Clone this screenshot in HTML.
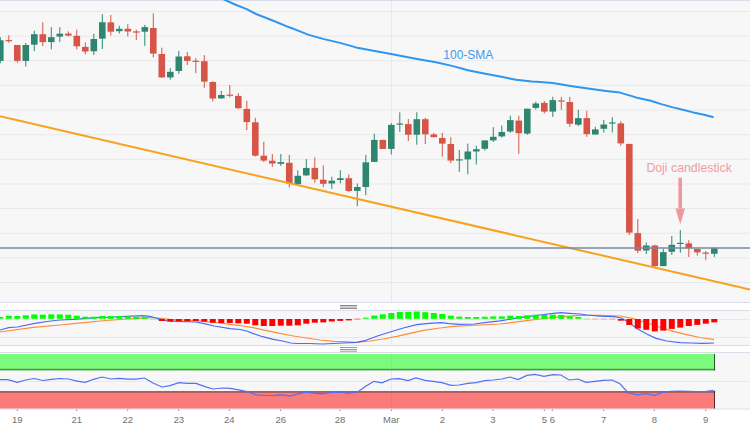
<!DOCTYPE html>
<html><head><meta charset="utf-8"><title>Chart</title>
<style>html,body{margin:0;padding:0;background:#fff;width:750px;height:430px;overflow:hidden}svg{display:block}</style>
</head><body>
<svg width="750" height="430" viewBox="0 0 750 430">
<rect x="0" y="0" width="750" height="430" fill="#ffffff"/>
<rect x="0" y="0" width="750" height="302" fill="#f7f7f7"/>
<rect x="0" y="310.5" width="750" height="35" fill="#f7f7f7"/>
<rect x="0" y="353" width="750" height="55.5" fill="#f7f7f7"/>
<line x1="0" x2="750" y1="11.50" y2="11.50" stroke="#e8e8e8" stroke-width="1"/>
<line x1="0" x2="750" y1="36.14" y2="36.14" stroke="#e8e8e8" stroke-width="1"/>
<line x1="0" x2="750" y1="60.77" y2="60.77" stroke="#e8e8e8" stroke-width="1"/>
<line x1="0" x2="750" y1="85.41" y2="85.41" stroke="#e8e8e8" stroke-width="1"/>
<line x1="0" x2="750" y1="110.04" y2="110.04" stroke="#e8e8e8" stroke-width="1"/>
<line x1="0" x2="750" y1="134.68" y2="134.68" stroke="#e8e8e8" stroke-width="1"/>
<line x1="0" x2="750" y1="159.32" y2="159.32" stroke="#e8e8e8" stroke-width="1"/>
<line x1="0" x2="750" y1="183.95" y2="183.95" stroke="#e8e8e8" stroke-width="1"/>
<line x1="0" x2="750" y1="208.59" y2="208.59" stroke="#e8e8e8" stroke-width="1"/>
<line x1="0" x2="750" y1="233.22" y2="233.22" stroke="#e8e8e8" stroke-width="1"/>
<line x1="0" x2="750" y1="257.86" y2="257.86" stroke="#e8e8e8" stroke-width="1"/>
<line x1="0" x2="750" y1="282.50" y2="282.50" stroke="#e8e8e8" stroke-width="1"/>
<line x1="0" x2="750" y1="319.5" y2="319.5" stroke="#e8e8e8" stroke-width="1"/>
<line x1="0" x2="750" y1="337.5" y2="337.5" stroke="#e8e8e8" stroke-width="1"/>
<line x1="0" x2="750" y1="381.5" y2="381.5" stroke="#e8e8e8" stroke-width="1"/>
<line x1="391.5" x2="391.5" y1="0" y2="302" stroke="#e8e8e8" stroke-width="1"/>
<line x1="391.5" x2="391.5" y1="310.5" y2="345" stroke="#e8e8e8" stroke-width="1"/>
<line x1="391.5" x2="391.5" y1="353" y2="408" stroke="#e8e8e8" stroke-width="1"/>
<line x1="0" x2="750" y1="0.5" y2="0.5" stroke="#d9dde9" stroke-width="1"/>
<line x1="0" x2="750" y1="302.5" y2="302.5" stroke="#d9dde9" stroke-width="1"/>
<line x1="0" x2="750" y1="310.5" y2="310.5" stroke="#d9dde9" stroke-width="1"/>
<line x1="0" x2="750" y1="345.5" y2="345.5" stroke="#d9dde9" stroke-width="1"/>
<line x1="0" x2="750" y1="352.5" y2="352.5" stroke="#d9dde9" stroke-width="1"/>
<line x1="0" x2="750" y1="409" y2="409" stroke="#d9dde9" stroke-width="1"/>
<rect x="340" y="305" width="17" height="4" fill="#cdcdcd"/>
<line x1="340" x2="357" y1="305.5" y2="305.5" stroke="#8c8c8c" stroke-width="1"/>
<line x1="340" x2="357" y1="308.5" y2="308.5" stroke="#8c8c8c" stroke-width="1"/>
<line x1="340" x2="357" y1="347.5" y2="347.5" stroke="#9a9a9a" stroke-width="1"/>
<line x1="340" x2="357" y1="349.5" y2="349.5" stroke="#9a9a9a" stroke-width="1"/>
<line x1="340" x2="357" y1="351.2" y2="351.2" stroke="#9a9a9a" stroke-width="1"/>
<line x1="0.30" x2="0.30" y1="37.2" y2="63.3" stroke="#2f8670" stroke-width="1"/>
<rect x="-3.00" y="40.30" width="6.6" height="20.60" fill="#2f8670"/>
<line x1="8.80" x2="8.80" y1="35.3" y2="42.7" stroke="#d65547" stroke-width="1"/>
<rect x="5.50" y="40.10" width="6.6" height="1.2" fill="#d65547"/>
<line x1="17.30" x2="17.30" y1="45" y2="62.8" stroke="#d65547" stroke-width="1"/>
<rect x="14.00" y="45.00" width="6.6" height="15.90" fill="#d65547"/>
<line x1="25.80" x2="25.80" y1="43" y2="66.5" stroke="#2f8670" stroke-width="1"/>
<rect x="22.50" y="45.00" width="6.6" height="15.90" fill="#2f8670"/>
<line x1="34.30" x2="34.30" y1="30.7" y2="51.2" stroke="#2f8670" stroke-width="1"/>
<rect x="31.00" y="34.20" width="6.6" height="10.50" fill="#2f8670"/>
<line x1="42.80" x2="42.80" y1="22.3" y2="46.2" stroke="#d65547" stroke-width="1"/>
<rect x="39.50" y="34.20" width="6.6" height="7.90" fill="#d65547"/>
<line x1="51.30" x2="51.30" y1="27.2" y2="49.3" stroke="#2f8670" stroke-width="1"/>
<rect x="48.00" y="37.20" width="6.6" height="4.90" fill="#2f8670"/>
<line x1="59.80" x2="59.80" y1="27.2" y2="41.9" stroke="#2f8670" stroke-width="1"/>
<rect x="56.50" y="33.70" width="6.6" height="2.90" fill="#2f8670"/>
<line x1="68.30" x2="68.30" y1="31.4" y2="36.5" stroke="#d65547" stroke-width="1"/>
<rect x="65.00" y="33.60" width="6.6" height="2.00" fill="#d65547"/>
<line x1="76.80" x2="76.80" y1="29.7" y2="49.4" stroke="#d65547" stroke-width="1"/>
<rect x="73.50" y="35.80" width="6.6" height="10.50" fill="#d65547"/>
<line x1="85.30" x2="85.30" y1="42.4" y2="54.4" stroke="#d65547" stroke-width="1"/>
<rect x="82.00" y="46.90" width="6.6" height="4.60" fill="#d65547"/>
<line x1="93.80" x2="93.80" y1="33.8" y2="55" stroke="#2f8670" stroke-width="1"/>
<rect x="90.50" y="39.00" width="6.6" height="12.30" fill="#2f8670"/>
<line x1="102.30" x2="102.30" y1="14.1" y2="49" stroke="#2f8670" stroke-width="1"/>
<rect x="99.00" y="22.20" width="6.6" height="16.50" fill="#2f8670"/>
<line x1="110.80" x2="110.80" y1="14.9" y2="35.5" stroke="#d65547" stroke-width="1"/>
<rect x="107.50" y="22.40" width="6.6" height="9.30" fill="#d65547"/>
<line x1="119.30" x2="119.30" y1="25.7" y2="33.5" stroke="#2f8670" stroke-width="1"/>
<rect x="116.00" y="28.80" width="6.6" height="2.40" fill="#2f8670"/>
<line x1="127.80" x2="127.80" y1="24.2" y2="36.4" stroke="#d65547" stroke-width="1"/>
<rect x="124.50" y="28.80" width="6.6" height="2.70" fill="#d65547"/>
<line x1="136.30" x2="136.30" y1="29.7" y2="40.1" stroke="#d65547" stroke-width="1"/>
<rect x="133.00" y="31.40" width="6.6" height="1.2" fill="#d65547"/>
<line x1="144.80" x2="144.80" y1="24.8" y2="45.9" stroke="#2f8670" stroke-width="1"/>
<rect x="141.50" y="27.10" width="6.6" height="4.60" fill="#2f8670"/>
<line x1="153.30" x2="153.30" y1="13.4" y2="57.4" stroke="#d65547" stroke-width="1"/>
<rect x="150.00" y="28.00" width="6.6" height="25.60" fill="#d65547"/>
<line x1="161.80" x2="161.80" y1="47.7" y2="78" stroke="#d65547" stroke-width="1"/>
<rect x="158.50" y="54.00" width="6.6" height="23.40" fill="#d65547"/>
<line x1="170.30" x2="170.30" y1="68.2" y2="79.7" stroke="#2f8670" stroke-width="1"/>
<rect x="167.00" y="71.80" width="6.6" height="5.60" fill="#2f8670"/>
<line x1="178.80" x2="178.80" y1="50.9" y2="73.8" stroke="#2f8670" stroke-width="1"/>
<rect x="175.50" y="56.50" width="6.6" height="14.50" fill="#2f8670"/>
<line x1="187.30" x2="187.30" y1="51.9" y2="65.1" stroke="#d65547" stroke-width="1"/>
<rect x="184.00" y="56.30" width="6.6" height="4.60" fill="#d65547"/>
<line x1="195.80" x2="195.80" y1="58.1" y2="73.2" stroke="#d65547" stroke-width="1"/>
<rect x="192.50" y="60.70" width="6.6" height="1.2" fill="#d65547"/>
<line x1="204.30" x2="204.30" y1="55.1" y2="87.7" stroke="#d65547" stroke-width="1"/>
<rect x="201.00" y="61.20" width="6.6" height="20.40" fill="#d65547"/>
<line x1="212.80" x2="212.80" y1="81.3" y2="101.5" stroke="#d65547" stroke-width="1"/>
<rect x="209.50" y="82.00" width="6.6" height="16.50" fill="#d65547"/>
<line x1="221.30" x2="221.30" y1="91" y2="98.8" stroke="#2f8670" stroke-width="1"/>
<rect x="218.00" y="95.00" width="6.6" height="3.40" fill="#2f8670"/>
<line x1="229.80" x2="229.80" y1="85" y2="97.3" stroke="#d65547" stroke-width="1"/>
<rect x="226.50" y="94.60" width="6.6" height="1.2" fill="#d65547"/>
<line x1="238.30" x2="238.30" y1="93.1" y2="109.2" stroke="#d65547" stroke-width="1"/>
<rect x="235.00" y="95.90" width="6.6" height="12.30" fill="#d65547"/>
<line x1="246.80" x2="246.80" y1="100.8" y2="130.1" stroke="#d65547" stroke-width="1"/>
<rect x="243.50" y="108.90" width="6.6" height="13.20" fill="#d65547"/>
<line x1="255.30" x2="255.30" y1="117.8" y2="156.6" stroke="#d65547" stroke-width="1"/>
<rect x="252.00" y="122.30" width="6.6" height="33.40" fill="#d65547"/>
<line x1="263.80" x2="263.80" y1="141.8" y2="162.1" stroke="#d65547" stroke-width="1"/>
<rect x="260.50" y="155.70" width="6.6" height="4.90" fill="#d65547"/>
<line x1="272.30" x2="272.30" y1="154" y2="166.9" stroke="#d65547" stroke-width="1"/>
<rect x="269.00" y="160.70" width="6.6" height="2.80" fill="#d65547"/>
<line x1="280.80" x2="280.80" y1="154" y2="165.9" stroke="#2f8670" stroke-width="1"/>
<rect x="277.50" y="162.10" width="6.6" height="1.70" fill="#2f8670"/>
<line x1="289.30" x2="289.30" y1="154.9" y2="187.4" stroke="#d65547" stroke-width="1"/>
<rect x="286.00" y="162.80" width="6.6" height="20.70" fill="#d65547"/>
<line x1="297.80" x2="297.80" y1="170.2" y2="186" stroke="#2f8670" stroke-width="1"/>
<rect x="294.50" y="175.80" width="6.6" height="8.40" fill="#2f8670"/>
<line x1="306.30" x2="306.30" y1="159.1" y2="175.8" stroke="#2f8670" stroke-width="1"/>
<rect x="303.00" y="167.90" width="6.6" height="7.50" fill="#2f8670"/>
<line x1="314.80" x2="314.80" y1="157.3" y2="182.8" stroke="#d65547" stroke-width="1"/>
<rect x="311.50" y="167.90" width="6.6" height="11.40" fill="#d65547"/>
<line x1="323.30" x2="323.30" y1="165.3" y2="187" stroke="#d65547" stroke-width="1"/>
<rect x="320.00" y="179.70" width="6.6" height="4.10" fill="#d65547"/>
<line x1="331.80" x2="331.80" y1="176.8" y2="188.8" stroke="#2f8670" stroke-width="1"/>
<rect x="328.50" y="180.70" width="6.6" height="2.80" fill="#2f8670"/>
<line x1="340.30" x2="340.30" y1="170.2" y2="183.2" stroke="#2f8670" stroke-width="1"/>
<rect x="337.00" y="178.20" width="6.6" height="1.80" fill="#2f8670"/>
<line x1="348.80" x2="348.80" y1="174.4" y2="192.1" stroke="#d65547" stroke-width="1"/>
<rect x="345.50" y="178.20" width="6.6" height="12.80" fill="#d65547"/>
<line x1="357.30" x2="357.30" y1="183.5" y2="206" stroke="#2f8670" stroke-width="1"/>
<rect x="354.00" y="187.00" width="6.6" height="3.90" fill="#2f8670"/>
<line x1="365.80" x2="365.80" y1="154.9" y2="195.3" stroke="#2f8670" stroke-width="1"/>
<rect x="362.50" y="162.30" width="6.6" height="24.70" fill="#2f8670"/>
<line x1="374.30" x2="374.30" y1="133.6" y2="162.2" stroke="#2f8670" stroke-width="1"/>
<rect x="371.00" y="139.90" width="6.6" height="22.00" fill="#2f8670"/>
<line x1="382.80" x2="382.80" y1="139.9" y2="148.9" stroke="#d65547" stroke-width="1"/>
<rect x="379.50" y="139.90" width="6.6" height="9.00" fill="#d65547"/>
<line x1="391.30" x2="391.30" y1="123.1" y2="154.5" stroke="#2f8670" stroke-width="1"/>
<rect x="388.00" y="124.90" width="6.6" height="24.00" fill="#2f8670"/>
<line x1="399.80" x2="399.80" y1="112.3" y2="131.8" stroke="#2f8670" stroke-width="1"/>
<rect x="396.50" y="123.50" width="6.6" height="1.2" fill="#2f8670"/>
<line x1="408.30" x2="408.30" y1="119" y2="141" stroke="#d65547" stroke-width="1"/>
<rect x="405.00" y="124.10" width="6.6" height="10.60" fill="#d65547"/>
<line x1="416.80" x2="416.80" y1="112.3" y2="144.7" stroke="#2f8670" stroke-width="1"/>
<rect x="413.50" y="119.20" width="6.6" height="15.50" fill="#2f8670"/>
<line x1="425.30" x2="425.30" y1="117.8" y2="144" stroke="#d65547" stroke-width="1"/>
<rect x="422.00" y="119.20" width="6.6" height="15.10" fill="#d65547"/>
<line x1="433.80" x2="433.80" y1="132.9" y2="137.2" stroke="#d65547" stroke-width="1"/>
<rect x="430.50" y="134.40" width="6.6" height="2.80" fill="#d65547"/>
<line x1="442.30" x2="442.30" y1="132.9" y2="156.6" stroke="#d65547" stroke-width="1"/>
<rect x="439.00" y="138.00" width="6.6" height="5.60" fill="#d65547"/>
<line x1="450.80" x2="450.80" y1="137.3" y2="163.1" stroke="#d65547" stroke-width="1"/>
<rect x="447.50" y="144.00" width="6.6" height="16.60" fill="#d65547"/>
<line x1="459.30" x2="459.30" y1="149.9" y2="171.9" stroke="#2f8670" stroke-width="1"/>
<rect x="456.00" y="159.30" width="6.6" height="1.2" fill="#2f8670"/>
<line x1="467.80" x2="467.80" y1="143.6" y2="174.3" stroke="#2f8670" stroke-width="1"/>
<rect x="464.50" y="151.50" width="6.6" height="7.90" fill="#2f8670"/>
<line x1="476.30" x2="476.30" y1="145.7" y2="164.5" stroke="#2f8670" stroke-width="1"/>
<rect x="473.00" y="149.20" width="6.6" height="2.30" fill="#2f8670"/>
<line x1="484.80" x2="484.80" y1="140.4" y2="150.6" stroke="#2f8670" stroke-width="1"/>
<rect x="481.50" y="140.40" width="6.6" height="8.40" fill="#2f8670"/>
<line x1="493.30" x2="493.30" y1="127.2" y2="141.8" stroke="#2f8670" stroke-width="1"/>
<rect x="490.00" y="136.80" width="6.6" height="3.60" fill="#2f8670"/>
<line x1="501.80" x2="501.80" y1="125.5" y2="137.6" stroke="#2f8670" stroke-width="1"/>
<rect x="498.50" y="132.00" width="6.6" height="4.40" fill="#2f8670"/>
<line x1="510.30" x2="510.30" y1="115.7" y2="132.7" stroke="#2f8670" stroke-width="1"/>
<rect x="507.00" y="120.10" width="6.6" height="11.40" fill="#2f8670"/>
<line x1="518.80" x2="518.80" y1="115.7" y2="153.8" stroke="#d65547" stroke-width="1"/>
<rect x="515.50" y="120.60" width="6.6" height="12.60" fill="#d65547"/>
<line x1="527.30" x2="527.30" y1="108.7" y2="134.8" stroke="#2f8670" stroke-width="1"/>
<rect x="524.00" y="108.70" width="6.6" height="24.90" fill="#2f8670"/>
<line x1="535.80" x2="535.80" y1="101.7" y2="109.5" stroke="#2f8670" stroke-width="1"/>
<rect x="532.50" y="103.50" width="6.6" height="4.40" fill="#2f8670"/>
<line x1="544.30" x2="544.30" y1="101" y2="113.4" stroke="#d65547" stroke-width="1"/>
<rect x="541.00" y="102.90" width="6.6" height="8.70" fill="#d65547"/>
<line x1="552.80" x2="552.80" y1="96.8" y2="117" stroke="#2f8670" stroke-width="1"/>
<rect x="549.50" y="100.10" width="6.6" height="11.50" fill="#2f8670"/>
<line x1="561.30" x2="561.30" y1="96.9" y2="109.8" stroke="#d65547" stroke-width="1"/>
<rect x="558.00" y="100.40" width="6.6" height="1.2" fill="#d65547"/>
<line x1="569.80" x2="569.80" y1="96.9" y2="126.8" stroke="#d65547" stroke-width="1"/>
<rect x="566.50" y="102.00" width="6.6" height="21.80" fill="#d65547"/>
<line x1="578.30" x2="578.30" y1="109.8" y2="126.1" stroke="#2f8670" stroke-width="1"/>
<rect x="575.00" y="118.10" width="6.6" height="6.60" fill="#2f8670"/>
<line x1="586.80" x2="586.80" y1="110.8" y2="136.9" stroke="#d65547" stroke-width="1"/>
<rect x="583.50" y="118.10" width="6.6" height="16.00" fill="#d65547"/>
<line x1="595.30" x2="595.30" y1="126.8" y2="134.5" stroke="#2f8670" stroke-width="1"/>
<rect x="592.00" y="129.40" width="6.6" height="5.10" fill="#2f8670"/>
<line x1="603.80" x2="603.80" y1="120" y2="132.6" stroke="#2f8670" stroke-width="1"/>
<rect x="600.50" y="124.50" width="6.6" height="4.30" fill="#2f8670"/>
<line x1="612.30" x2="612.30" y1="117.3" y2="132.5" stroke="#2f8670" stroke-width="1"/>
<rect x="609.00" y="122.40" width="6.6" height="1.2" fill="#2f8670"/>
<line x1="620.80" x2="620.80" y1="121.1" y2="145.8" stroke="#d65547" stroke-width="1"/>
<rect x="617.50" y="123.40" width="6.6" height="20.00" fill="#d65547"/>
<line x1="629.30" x2="629.30" y1="143.9" y2="235" stroke="#d65547" stroke-width="1"/>
<rect x="626.00" y="143.90" width="6.6" height="88.70" fill="#d65547"/>
<line x1="637.80" x2="637.80" y1="219" y2="253.1" stroke="#d65547" stroke-width="1"/>
<rect x="634.50" y="233.10" width="6.6" height="17.60" fill="#d65547"/>
<line x1="646.30" x2="646.30" y1="242.5" y2="254" stroke="#2f8670" stroke-width="1"/>
<rect x="643.00" y="245.50" width="6.6" height="5.00" fill="#2f8670"/>
<line x1="654.80" x2="654.80" y1="244.7" y2="267.1" stroke="#d65547" stroke-width="1"/>
<rect x="651.50" y="245.50" width="6.6" height="20.60" fill="#d65547"/>
<line x1="663.30" x2="663.30" y1="248.8" y2="266.1" stroke="#2f8670" stroke-width="1"/>
<rect x="660.00" y="252.10" width="6.6" height="14.00" fill="#2f8670"/>
<line x1="671.80" x2="671.80" y1="236" y2="254.9" stroke="#2f8670" stroke-width="1"/>
<rect x="668.50" y="244.80" width="6.6" height="7.00" fill="#2f8670"/>
<line x1="680.30" x2="680.30" y1="230" y2="252.8" stroke="#2f8670" stroke-width="1"/>
<rect x="677.00" y="242.80" width="6.6" height="1.2" fill="#2f8670"/>
<line x1="688.80" x2="688.80" y1="240.2" y2="257" stroke="#d65547" stroke-width="1"/>
<rect x="685.50" y="243.40" width="6.6" height="4.80" fill="#d65547"/>
<line x1="697.30" x2="697.30" y1="248.9" y2="255.6" stroke="#d65547" stroke-width="1"/>
<rect x="694.00" y="248.90" width="6.6" height="3.50" fill="#d65547"/>
<line x1="705.80" x2="705.80" y1="251" y2="260.2" stroke="#d65547" stroke-width="1"/>
<rect x="702.50" y="252.60" width="6.6" height="1.2" fill="#d65547"/>
<line x1="714.30" x2="714.30" y1="247.2" y2="257" stroke="#2f8670" stroke-width="1"/>
<rect x="711.00" y="248.20" width="6.6" height="5.60" fill="#2f8670"/>
<line x1="0" y1="116.3" x2="750" y2="289.6" stroke="#f8a21c" stroke-width="2"/>
<polyline points="218.0,-3.3 225.3,0.0 235.0,4.5 246.7,9.1 256.0,14.0 273.3,20.7 289.3,27.3 300.0,31.4 308.0,34.6 324.0,39.1 340.0,42.9 356.0,47.4 372.0,50.6 391.2,54.1 404.0,56.5 420.0,59.4 436.0,62.2 452.0,65.9 468.0,70.2 484.0,73.4 500.0,76.6 516.0,79.8 532.0,81.4 540.0,81.9 552.8,83.0 572.0,86.2 588.0,88.6 604.0,90.7 620.0,92.6 636.0,97.4 650.7,100.7 661.3,104.1 672.0,107.1 682.7,109.7 693.3,112.4 704.0,114.7 713.6,117.2" fill="none" stroke="#2f96ef" stroke-width="2" stroke-linejoin="round"/>
<line x1="0" x2="750" y1="248" y2="248" stroke="#7888a5" stroke-width="1.4"/>
<text x="443.3" y="58.7" font-family="Liberation Sans, Arial, sans-serif" font-size="12" fill="#3d9be9">100-SMA</text>
<text x="646.4" y="172" font-family="Liberation Sans, Arial, sans-serif" font-size="12.3" fill="#f29ca1">Doji candlestick</text>
<rect x="678.4" y="177.7" width="3.6" height="31" fill="#f0979b"/>
<polygon points="675.5,208.4 685,208.4 680.25,224.4" fill="#f0979b"/>
<polyline points="0.0,332.0 33.3,327.3 60.0,325.0 73.3,323.7 86.7,322.4 100.0,321.0 113.3,320.0 126.7,319.0 140.0,318.4 150.0,317.3 158.0,318.0 170.0,319.3 190.0,320.3 203.3,321.3 216.7,322.7 230.0,324.3 243.3,326.0 253.3,327.7 266.7,330.7 280.0,333.3 293.3,336.0 306.7,338.0 320.0,340.0 333.3,341.3 343.3,341.7 356.7,342.3 370.0,341.0 383.3,339.0 396.7,336.3 410.0,333.3 423.3,330.4 440.0,328.0 453.3,326.4 466.7,325.6 480.0,325.0 500.0,324.0 513.3,322.4 526.7,320.7 540.0,319.0 553.3,317.3 566.7,316.3 580.0,315.3 593.3,315.3 600.0,315.4 620.0,316.0 633.3,318.7 646.7,322.7 660.0,327.3 673.3,331.3 686.7,334.7 700.0,337.5 714.0,339.6" fill="none" stroke="#ff8c3c" stroke-width="1.2"/>
<polyline points="0.0,330.0 8.7,327.6 17.3,327.0 34.7,323.3 50.7,321.0 60.0,320.0 73.3,319.3 86.7,318.4 100.0,317.3 113.3,317.0 126.7,316.4 142.7,315.6 150.0,316.3 156.7,318.4 166.0,320.7 176.7,321.3 195.3,322.0 203.3,323.3 214.0,326.0 230.0,328.7 240.0,329.5 246.7,331.0 253.3,333.6 262.7,336.7 273.3,339.3 282.7,341.0 290.7,343.0 297.3,343.5 309.3,343.5 322.7,344.0 343.3,343.0 356.7,342.4 364.7,340.7 376.7,336.3 390.0,332.0 403.3,328.0 416.7,324.7 429.3,323.3 441.3,322.7 449.3,323.6 460.0,324.3 474.7,324.0 486.7,322.4 500.0,320.9 513.3,318.7 526.7,316.7 540.0,315.0 553.3,313.3 561.3,312.7 569.3,313.3 580.0,314.0 586.7,315.0 600.0,316.1 613.3,316.7 621.3,318.0 629.3,322.7 637.3,328.7 646.7,334.0 656.0,338.4 666.7,341.0 680.0,342.6 690.0,343.0 703.3,343.3 714.0,343.0" fill="none" stroke="#4a6cf7" stroke-width="1.2"/>
<rect x="-2.70" y="317.00" width="6" height="1.80" fill="#00ff00"/>
<rect x="5.80" y="315.70" width="6" height="3.10" fill="#00ff00"/>
<rect x="14.30" y="316.00" width="6" height="2.80" fill="#00ff00"/>
<rect x="22.80" y="315.30" width="6" height="3.50" fill="#00ff00"/>
<rect x="31.30" y="314.40" width="6" height="4.40" fill="#00ff00"/>
<rect x="39.80" y="314.70" width="6" height="4.10" fill="#00ff00"/>
<rect x="48.30" y="314.40" width="6" height="4.40" fill="#00ff00"/>
<rect x="56.80" y="314.40" width="6" height="4.40" fill="#00ff00"/>
<rect x="65.30" y="314.70" width="6" height="4.10" fill="#00ff00"/>
<rect x="73.80" y="315.70" width="6" height="3.10" fill="#00ff00"/>
<rect x="82.30" y="316.70" width="6" height="2.10" fill="#00ff00"/>
<rect x="90.80" y="316.70" width="6" height="2.10" fill="#00ff00"/>
<rect x="99.30" y="316.00" width="6" height="2.80" fill="#00ff00"/>
<rect x="107.80" y="316.00" width="6" height="2.80" fill="#00ff00"/>
<rect x="116.30" y="316.00" width="6" height="2.80" fill="#00ff00"/>
<rect x="124.80" y="316.40" width="6" height="2.40" fill="#00ff00"/>
<rect x="133.30" y="316.80" width="6" height="2.00" fill="#00ff00"/>
<rect x="141.80" y="316.80" width="6" height="2.00" fill="#00ff00"/>
<rect x="150.30" y="318.50" width="6" height="1.2" fill="#9cf09c"/>
<rect x="362.80" y="317.70" width="6" height="1.10" fill="#00ff00"/>
<rect x="371.30" y="315.60" width="6" height="3.20" fill="#00ff00"/>
<rect x="379.80" y="314.30" width="6" height="4.50" fill="#00ff00"/>
<rect x="388.30" y="313.00" width="6" height="5.80" fill="#00ff00"/>
<rect x="396.80" y="312.00" width="6" height="6.80" fill="#00ff00"/>
<rect x="405.30" y="311.80" width="6" height="7.00" fill="#00ff00"/>
<rect x="413.80" y="311.50" width="6" height="7.30" fill="#00ff00"/>
<rect x="422.30" y="312.20" width="6" height="6.60" fill="#00ff00"/>
<rect x="430.80" y="313.00" width="6" height="5.80" fill="#00ff00"/>
<rect x="439.30" y="314.00" width="6" height="4.80" fill="#00ff00"/>
<rect x="447.80" y="315.70" width="6" height="3.10" fill="#00ff00"/>
<rect x="456.30" y="316.70" width="6" height="2.10" fill="#00ff00"/>
<rect x="464.80" y="317.00" width="6" height="1.80" fill="#00ff00"/>
<rect x="473.30" y="317.00" width="6" height="1.80" fill="#00ff00"/>
<rect x="481.80" y="316.80" width="6" height="2.00" fill="#00ff00"/>
<rect x="490.30" y="316.40" width="6" height="2.40" fill="#00ff00"/>
<rect x="498.80" y="316.40" width="6" height="2.40" fill="#00ff00"/>
<rect x="507.30" y="315.70" width="6" height="3.10" fill="#00ff00"/>
<rect x="515.80" y="316.00" width="6" height="2.80" fill="#00ff00"/>
<rect x="524.30" y="315.30" width="6" height="3.50" fill="#00ff00"/>
<rect x="532.80" y="314.70" width="6" height="4.10" fill="#00ff00"/>
<rect x="541.30" y="315.00" width="6" height="3.80" fill="#00ff00"/>
<rect x="549.80" y="314.70" width="6" height="4.10" fill="#00ff00"/>
<rect x="558.30" y="315.00" width="6" height="3.80" fill="#00ff00"/>
<rect x="566.80" y="316.30" width="6" height="2.50" fill="#00ff00"/>
<rect x="575.30" y="317.00" width="6" height="1.80" fill="#00ff00"/>
<rect x="583.80" y="318.50" width="6" height="1.2" fill="#a8eea8"/>
<rect x="158.80" y="319.00" width="6" height="2.00" fill="#ff0000"/>
<rect x="167.30" y="319.00" width="6" height="2.60" fill="#ff0000"/>
<rect x="175.80" y="319.00" width="6" height="2.30" fill="#ff0000"/>
<rect x="184.30" y="319.00" width="6" height="2.30" fill="#ff0000"/>
<rect x="192.80" y="319.00" width="6" height="2.00" fill="#ff0000"/>
<rect x="201.30" y="319.00" width="6" height="2.60" fill="#ff0000"/>
<rect x="209.80" y="319.00" width="6" height="3.70" fill="#ff0000"/>
<rect x="218.30" y="319.00" width="6" height="4.00" fill="#ff0000"/>
<rect x="226.80" y="319.00" width="6" height="4.00" fill="#ff0000"/>
<rect x="235.30" y="319.00" width="6" height="4.30" fill="#ff0000"/>
<rect x="243.80" y="319.00" width="6" height="4.70" fill="#ff0000"/>
<rect x="252.30" y="319.00" width="6" height="6.30" fill="#ff0000"/>
<rect x="260.80" y="319.00" width="6" height="7.00" fill="#ff0000"/>
<rect x="269.30" y="319.00" width="6" height="7.00" fill="#ff0000"/>
<rect x="277.80" y="319.00" width="6" height="6.70" fill="#ff0000"/>
<rect x="286.30" y="319.00" width="6" height="6.70" fill="#ff0000"/>
<rect x="294.80" y="319.00" width="6" height="6.30" fill="#ff0000"/>
<rect x="303.30" y="319.00" width="6" height="4.70" fill="#ff0000"/>
<rect x="311.80" y="319.00" width="6" height="3.70" fill="#ff0000"/>
<rect x="320.30" y="319.00" width="6" height="3.40" fill="#ff0000"/>
<rect x="328.80" y="319.00" width="6" height="2.50" fill="#ff0000"/>
<rect x="337.30" y="319.00" width="6" height="1.90" fill="#ff0000"/>
<rect x="345.80" y="319.00" width="6" height="1.40" fill="#ff0000"/>
<rect x="354.30" y="318.50" width="6" height="1.2" fill="#f58a8a"/>
<rect x="592.30" y="318.50" width="6" height="1.2" fill="#f5b5b5"/>
<rect x="600.80" y="318.50" width="6" height="1.2" fill="#f5b5b5"/>
<rect x="609.30" y="318.50" width="6" height="1.2" fill="#f3a8a8"/>
<rect x="617.80" y="319.00" width="6" height="1.70" fill="#ff0000"/>
<rect x="626.30" y="319.00" width="6" height="6.00" fill="#ff0000"/>
<rect x="634.80" y="319.00" width="6" height="9.50" fill="#ff0000"/>
<rect x="643.30" y="319.00" width="6" height="10.80" fill="#ff0000"/>
<rect x="651.80" y="319.00" width="6" height="12.40" fill="#ff0000"/>
<rect x="660.30" y="319.00" width="6" height="11.60" fill="#ff0000"/>
<rect x="668.80" y="319.00" width="6" height="9.90" fill="#ff0000"/>
<rect x="677.30" y="319.00" width="6" height="8.60" fill="#ff0000"/>
<rect x="685.80" y="319.00" width="6" height="7.00" fill="#ff0000"/>
<rect x="694.30" y="319.00" width="6" height="5.90" fill="#ff0000"/>
<rect x="702.80" y="319.00" width="6" height="4.70" fill="#ff0000"/>
<rect x="711.30" y="319.00" width="6" height="3.40" fill="#ff0000"/>
<rect x="0" y="354" width="714.5" height="15.5" fill="#00ff00" fill-opacity="0.5"/>
<rect x="0" y="392.5" width="714.5" height="16" fill="#ff0000" fill-opacity="0.5"/>
<rect x="0" y="368.8" width="714.5" height="1.6" fill="#429842"/>
<rect x="0" y="391.1" width="714.5" height="1.7" fill="#a24a4a"/>
<rect x="8.80" y="368.8" width="1" height="1.6" fill="#62b862"/>
<rect x="8.80" y="391.1" width="1" height="1.7" fill="#c06a6a"/>
<rect x="17.30" y="368.8" width="1" height="1.6" fill="#62b862"/>
<rect x="17.30" y="391.1" width="1" height="1.7" fill="#c06a6a"/>
<rect x="25.80" y="368.8" width="1" height="1.6" fill="#62b862"/>
<rect x="25.80" y="391.1" width="1" height="1.7" fill="#c06a6a"/>
<rect x="34.30" y="368.8" width="1" height="1.6" fill="#62b862"/>
<rect x="34.30" y="391.1" width="1" height="1.7" fill="#c06a6a"/>
<rect x="42.80" y="368.8" width="1" height="1.6" fill="#62b862"/>
<rect x="42.80" y="391.1" width="1" height="1.7" fill="#c06a6a"/>
<rect x="51.30" y="368.8" width="1" height="1.6" fill="#62b862"/>
<rect x="51.30" y="391.1" width="1" height="1.7" fill="#c06a6a"/>
<rect x="59.80" y="368.8" width="1" height="1.6" fill="#62b862"/>
<rect x="59.80" y="391.1" width="1" height="1.7" fill="#c06a6a"/>
<rect x="68.30" y="368.8" width="1" height="1.6" fill="#62b862"/>
<rect x="68.30" y="391.1" width="1" height="1.7" fill="#c06a6a"/>
<rect x="76.80" y="368.8" width="1" height="1.6" fill="#62b862"/>
<rect x="76.80" y="391.1" width="1" height="1.7" fill="#c06a6a"/>
<rect x="85.30" y="368.8" width="1" height="1.6" fill="#62b862"/>
<rect x="85.30" y="391.1" width="1" height="1.7" fill="#c06a6a"/>
<rect x="93.80" y="368.8" width="1" height="1.6" fill="#62b862"/>
<rect x="93.80" y="391.1" width="1" height="1.7" fill="#c06a6a"/>
<rect x="102.30" y="368.8" width="1" height="1.6" fill="#62b862"/>
<rect x="102.30" y="391.1" width="1" height="1.7" fill="#c06a6a"/>
<rect x="110.80" y="368.8" width="1" height="1.6" fill="#62b862"/>
<rect x="110.80" y="391.1" width="1" height="1.7" fill="#c06a6a"/>
<rect x="119.30" y="368.8" width="1" height="1.6" fill="#62b862"/>
<rect x="119.30" y="391.1" width="1" height="1.7" fill="#c06a6a"/>
<rect x="127.80" y="368.8" width="1" height="1.6" fill="#62b862"/>
<rect x="127.80" y="391.1" width="1" height="1.7" fill="#c06a6a"/>
<rect x="136.30" y="368.8" width="1" height="1.6" fill="#62b862"/>
<rect x="136.30" y="391.1" width="1" height="1.7" fill="#c06a6a"/>
<rect x="144.80" y="368.8" width="1" height="1.6" fill="#62b862"/>
<rect x="144.80" y="391.1" width="1" height="1.7" fill="#c06a6a"/>
<rect x="153.30" y="368.8" width="1" height="1.6" fill="#62b862"/>
<rect x="153.30" y="391.1" width="1" height="1.7" fill="#c06a6a"/>
<rect x="161.80" y="368.8" width="1" height="1.6" fill="#62b862"/>
<rect x="161.80" y="391.1" width="1" height="1.7" fill="#c06a6a"/>
<rect x="170.30" y="368.8" width="1" height="1.6" fill="#62b862"/>
<rect x="170.30" y="391.1" width="1" height="1.7" fill="#c06a6a"/>
<rect x="178.80" y="368.8" width="1" height="1.6" fill="#62b862"/>
<rect x="178.80" y="391.1" width="1" height="1.7" fill="#c06a6a"/>
<rect x="187.30" y="368.8" width="1" height="1.6" fill="#62b862"/>
<rect x="187.30" y="391.1" width="1" height="1.7" fill="#c06a6a"/>
<rect x="195.80" y="368.8" width="1" height="1.6" fill="#62b862"/>
<rect x="195.80" y="391.1" width="1" height="1.7" fill="#c06a6a"/>
<rect x="204.30" y="368.8" width="1" height="1.6" fill="#62b862"/>
<rect x="204.30" y="391.1" width="1" height="1.7" fill="#c06a6a"/>
<rect x="212.80" y="368.8" width="1" height="1.6" fill="#62b862"/>
<rect x="212.80" y="391.1" width="1" height="1.7" fill="#c06a6a"/>
<rect x="221.30" y="368.8" width="1" height="1.6" fill="#62b862"/>
<rect x="221.30" y="391.1" width="1" height="1.7" fill="#c06a6a"/>
<rect x="229.80" y="368.8" width="1" height="1.6" fill="#62b862"/>
<rect x="229.80" y="391.1" width="1" height="1.7" fill="#c06a6a"/>
<rect x="238.30" y="368.8" width="1" height="1.6" fill="#62b862"/>
<rect x="238.30" y="391.1" width="1" height="1.7" fill="#c06a6a"/>
<rect x="246.80" y="368.8" width="1" height="1.6" fill="#62b862"/>
<rect x="246.80" y="391.1" width="1" height="1.7" fill="#c06a6a"/>
<rect x="255.30" y="368.8" width="1" height="1.6" fill="#62b862"/>
<rect x="255.30" y="391.1" width="1" height="1.7" fill="#c06a6a"/>
<rect x="263.80" y="368.8" width="1" height="1.6" fill="#62b862"/>
<rect x="263.80" y="391.1" width="1" height="1.7" fill="#c06a6a"/>
<rect x="272.30" y="368.8" width="1" height="1.6" fill="#62b862"/>
<rect x="272.30" y="391.1" width="1" height="1.7" fill="#c06a6a"/>
<rect x="280.80" y="368.8" width="1" height="1.6" fill="#62b862"/>
<rect x="280.80" y="391.1" width="1" height="1.7" fill="#c06a6a"/>
<rect x="289.30" y="368.8" width="1" height="1.6" fill="#62b862"/>
<rect x="289.30" y="391.1" width="1" height="1.7" fill="#c06a6a"/>
<rect x="297.80" y="368.8" width="1" height="1.6" fill="#62b862"/>
<rect x="297.80" y="391.1" width="1" height="1.7" fill="#c06a6a"/>
<rect x="306.30" y="368.8" width="1" height="1.6" fill="#62b862"/>
<rect x="306.30" y="391.1" width="1" height="1.7" fill="#c06a6a"/>
<rect x="314.80" y="368.8" width="1" height="1.6" fill="#62b862"/>
<rect x="314.80" y="391.1" width="1" height="1.7" fill="#c06a6a"/>
<rect x="323.30" y="368.8" width="1" height="1.6" fill="#62b862"/>
<rect x="323.30" y="391.1" width="1" height="1.7" fill="#c06a6a"/>
<rect x="331.80" y="368.8" width="1" height="1.6" fill="#62b862"/>
<rect x="331.80" y="391.1" width="1" height="1.7" fill="#c06a6a"/>
<rect x="340.30" y="368.8" width="1" height="1.6" fill="#62b862"/>
<rect x="340.30" y="391.1" width="1" height="1.7" fill="#c06a6a"/>
<rect x="348.80" y="368.8" width="1" height="1.6" fill="#62b862"/>
<rect x="348.80" y="391.1" width="1" height="1.7" fill="#c06a6a"/>
<rect x="357.30" y="368.8" width="1" height="1.6" fill="#62b862"/>
<rect x="357.30" y="391.1" width="1" height="1.7" fill="#c06a6a"/>
<rect x="365.80" y="368.8" width="1" height="1.6" fill="#62b862"/>
<rect x="365.80" y="391.1" width="1" height="1.7" fill="#c06a6a"/>
<rect x="374.30" y="368.8" width="1" height="1.6" fill="#62b862"/>
<rect x="374.30" y="391.1" width="1" height="1.7" fill="#c06a6a"/>
<rect x="382.80" y="368.8" width="1" height="1.6" fill="#62b862"/>
<rect x="382.80" y="391.1" width="1" height="1.7" fill="#c06a6a"/>
<rect x="391.30" y="368.8" width="1" height="1.6" fill="#62b862"/>
<rect x="391.30" y="391.1" width="1" height="1.7" fill="#c06a6a"/>
<rect x="399.80" y="368.8" width="1" height="1.6" fill="#62b862"/>
<rect x="399.80" y="391.1" width="1" height="1.7" fill="#c06a6a"/>
<rect x="408.30" y="368.8" width="1" height="1.6" fill="#62b862"/>
<rect x="408.30" y="391.1" width="1" height="1.7" fill="#c06a6a"/>
<rect x="416.80" y="368.8" width="1" height="1.6" fill="#62b862"/>
<rect x="416.80" y="391.1" width="1" height="1.7" fill="#c06a6a"/>
<rect x="425.30" y="368.8" width="1" height="1.6" fill="#62b862"/>
<rect x="425.30" y="391.1" width="1" height="1.7" fill="#c06a6a"/>
<rect x="433.80" y="368.8" width="1" height="1.6" fill="#62b862"/>
<rect x="433.80" y="391.1" width="1" height="1.7" fill="#c06a6a"/>
<rect x="442.30" y="368.8" width="1" height="1.6" fill="#62b862"/>
<rect x="442.30" y="391.1" width="1" height="1.7" fill="#c06a6a"/>
<rect x="450.80" y="368.8" width="1" height="1.6" fill="#62b862"/>
<rect x="450.80" y="391.1" width="1" height="1.7" fill="#c06a6a"/>
<rect x="459.30" y="368.8" width="1" height="1.6" fill="#62b862"/>
<rect x="459.30" y="391.1" width="1" height="1.7" fill="#c06a6a"/>
<rect x="467.80" y="368.8" width="1" height="1.6" fill="#62b862"/>
<rect x="467.80" y="391.1" width="1" height="1.7" fill="#c06a6a"/>
<rect x="476.30" y="368.8" width="1" height="1.6" fill="#62b862"/>
<rect x="476.30" y="391.1" width="1" height="1.7" fill="#c06a6a"/>
<rect x="484.80" y="368.8" width="1" height="1.6" fill="#62b862"/>
<rect x="484.80" y="391.1" width="1" height="1.7" fill="#c06a6a"/>
<rect x="493.30" y="368.8" width="1" height="1.6" fill="#62b862"/>
<rect x="493.30" y="391.1" width="1" height="1.7" fill="#c06a6a"/>
<rect x="501.80" y="368.8" width="1" height="1.6" fill="#62b862"/>
<rect x="501.80" y="391.1" width="1" height="1.7" fill="#c06a6a"/>
<rect x="510.30" y="368.8" width="1" height="1.6" fill="#62b862"/>
<rect x="510.30" y="391.1" width="1" height="1.7" fill="#c06a6a"/>
<rect x="518.80" y="368.8" width="1" height="1.6" fill="#62b862"/>
<rect x="518.80" y="391.1" width="1" height="1.7" fill="#c06a6a"/>
<rect x="527.30" y="368.8" width="1" height="1.6" fill="#62b862"/>
<rect x="527.30" y="391.1" width="1" height="1.7" fill="#c06a6a"/>
<rect x="535.80" y="368.8" width="1" height="1.6" fill="#62b862"/>
<rect x="535.80" y="391.1" width="1" height="1.7" fill="#c06a6a"/>
<rect x="544.30" y="368.8" width="1" height="1.6" fill="#62b862"/>
<rect x="544.30" y="391.1" width="1" height="1.7" fill="#c06a6a"/>
<rect x="552.80" y="368.8" width="1" height="1.6" fill="#62b862"/>
<rect x="552.80" y="391.1" width="1" height="1.7" fill="#c06a6a"/>
<rect x="561.30" y="368.8" width="1" height="1.6" fill="#62b862"/>
<rect x="561.30" y="391.1" width="1" height="1.7" fill="#c06a6a"/>
<rect x="569.80" y="368.8" width="1" height="1.6" fill="#62b862"/>
<rect x="569.80" y="391.1" width="1" height="1.7" fill="#c06a6a"/>
<rect x="578.30" y="368.8" width="1" height="1.6" fill="#62b862"/>
<rect x="578.30" y="391.1" width="1" height="1.7" fill="#c06a6a"/>
<rect x="586.80" y="368.8" width="1" height="1.6" fill="#62b862"/>
<rect x="586.80" y="391.1" width="1" height="1.7" fill="#c06a6a"/>
<rect x="595.30" y="368.8" width="1" height="1.6" fill="#62b862"/>
<rect x="595.30" y="391.1" width="1" height="1.7" fill="#c06a6a"/>
<rect x="603.80" y="368.8" width="1" height="1.6" fill="#62b862"/>
<rect x="603.80" y="391.1" width="1" height="1.7" fill="#c06a6a"/>
<rect x="612.30" y="368.8" width="1" height="1.6" fill="#62b862"/>
<rect x="612.30" y="391.1" width="1" height="1.7" fill="#c06a6a"/>
<rect x="620.80" y="368.8" width="1" height="1.6" fill="#62b862"/>
<rect x="620.80" y="391.1" width="1" height="1.7" fill="#c06a6a"/>
<rect x="629.30" y="368.8" width="1" height="1.6" fill="#62b862"/>
<rect x="629.30" y="391.1" width="1" height="1.7" fill="#c06a6a"/>
<rect x="637.80" y="368.8" width="1" height="1.6" fill="#62b862"/>
<rect x="637.80" y="391.1" width="1" height="1.7" fill="#c06a6a"/>
<rect x="646.30" y="368.8" width="1" height="1.6" fill="#62b862"/>
<rect x="646.30" y="391.1" width="1" height="1.7" fill="#c06a6a"/>
<rect x="654.80" y="368.8" width="1" height="1.6" fill="#62b862"/>
<rect x="654.80" y="391.1" width="1" height="1.7" fill="#c06a6a"/>
<rect x="663.30" y="368.8" width="1" height="1.6" fill="#62b862"/>
<rect x="663.30" y="391.1" width="1" height="1.7" fill="#c06a6a"/>
<rect x="671.80" y="368.8" width="1" height="1.6" fill="#62b862"/>
<rect x="671.80" y="391.1" width="1" height="1.7" fill="#c06a6a"/>
<rect x="680.30" y="368.8" width="1" height="1.6" fill="#62b862"/>
<rect x="680.30" y="391.1" width="1" height="1.7" fill="#c06a6a"/>
<rect x="688.80" y="368.8" width="1" height="1.6" fill="#62b862"/>
<rect x="688.80" y="391.1" width="1" height="1.7" fill="#c06a6a"/>
<rect x="697.30" y="368.8" width="1" height="1.6" fill="#62b862"/>
<rect x="697.30" y="391.1" width="1" height="1.7" fill="#c06a6a"/>
<rect x="705.80" y="368.8" width="1" height="1.6" fill="#62b862"/>
<rect x="705.80" y="391.1" width="1" height="1.7" fill="#c06a6a"/>
<rect x="714.30" y="368.8" width="1" height="1.6" fill="#62b862"/>
<rect x="714.30" y="391.1" width="1" height="1.7" fill="#c06a6a"/>
<line x1="714.5" x2="714.5" y1="354" y2="370.4" stroke="#2a5a2a" stroke-width="1"/>
<line x1="714.5" x2="714.5" y1="390.8" y2="408.5" stroke="#5a2a2a" stroke-width="1"/>
<polyline points="0.0,379.6 7.8,379.6 17.1,382.4 25.7,380.0 34.3,378.5 42.8,380.5 51.4,379.3 60.0,378.5 68.5,379.0 77.1,381.1 85.4,382.4 93.5,379.3 102.0,377.0 111.0,379.0 119.0,378.4 128.0,379.2 136.0,379.2 144.4,378.0 153.0,383.0 162.0,387.0 170.0,385.6 179.0,382.6 188.0,383.4 196.0,383.4 205.0,386.6 213.0,389.0 222.0,388.0 230.0,388.4 240.0,390.2 248.0,391.8 256.0,394.8 265.0,395.5 274.0,395.4 282.0,394.8 290.0,396.2 298.0,394.0 306.0,392.2 314.0,393.1 322.0,393.8 332.0,392.5 340.0,392.2 349.0,393.3 358.0,391.8 366.0,386.0 374.0,381.3 382.0,382.8 391.0,379.0 399.0,378.6 408.0,380.6 416.0,378.0 425.0,380.4 433.0,381.4 442.0,382.6 451.0,385.4 459.0,385.0 468.0,383.4 476.0,382.6 485.0,380.6 493.0,380.0 502.0,379.0 510.0,377.0 518.0,379.6 527.0,375.4 535.0,374.4 544.0,376.4 553.0,374.6 561.0,375.0 569.0,380.0 578.0,379.0 586.0,382.4 595.0,381.4 603.0,380.4 612.0,380.0 620.0,383.8 628.0,392.6 637.0,394.9 646.0,393.6 654.7,395.3 662.7,392.3 670.7,391.3 680.0,391.0 688.0,391.3 696.0,391.6 705.3,391.6 713.5,390.4" fill="none" stroke="#5070f5" stroke-width="1.2"/>
<line x1="17.3" x2="17.3" y1="409.5" y2="411" stroke="#888" stroke-width="1"/>
<text x="17.3" y="422.6" text-anchor="middle" font-family="Liberation Sans, Arial, sans-serif" font-size="9.5" fill="#707070">19</text>
<line x1="76.7" x2="76.7" y1="409.5" y2="411" stroke="#888" stroke-width="1"/>
<text x="76.7" y="422.6" text-anchor="middle" font-family="Liberation Sans, Arial, sans-serif" font-size="9.5" fill="#707070">21</text>
<line x1="127.7" x2="127.7" y1="409.5" y2="411" stroke="#888" stroke-width="1"/>
<text x="127.7" y="422.6" text-anchor="middle" font-family="Liberation Sans, Arial, sans-serif" font-size="9.5" fill="#707070">22</text>
<line x1="178.7" x2="178.7" y1="409.5" y2="411" stroke="#888" stroke-width="1"/>
<text x="178.7" y="422.6" text-anchor="middle" font-family="Liberation Sans, Arial, sans-serif" font-size="9.5" fill="#707070">23</text>
<line x1="229.3" x2="229.3" y1="409.5" y2="411" stroke="#888" stroke-width="1"/>
<text x="229.3" y="422.6" text-anchor="middle" font-family="Liberation Sans, Arial, sans-serif" font-size="9.5" fill="#707070">24</text>
<line x1="280.7" x2="280.7" y1="409.5" y2="411" stroke="#888" stroke-width="1"/>
<text x="280.7" y="422.6" text-anchor="middle" font-family="Liberation Sans, Arial, sans-serif" font-size="9.5" fill="#707070">26</text>
<line x1="340.0" x2="340.0" y1="409.5" y2="411" stroke="#888" stroke-width="1"/>
<text x="340.0" y="422.6" text-anchor="middle" font-family="Liberation Sans, Arial, sans-serif" font-size="9.5" fill="#707070">28</text>
<line x1="391.3" x2="391.3" y1="409.5" y2="411" stroke="#888" stroke-width="1"/>
<text x="391.3" y="422.6" text-anchor="middle" font-family="Liberation Sans, Arial, sans-serif" font-size="9.5" fill="#707070">Mar</text>
<line x1="442.3" x2="442.3" y1="409.5" y2="411" stroke="#888" stroke-width="1"/>
<text x="442.3" y="422.6" text-anchor="middle" font-family="Liberation Sans, Arial, sans-serif" font-size="9.5" fill="#707070">2</text>
<line x1="493.0" x2="493.0" y1="409.5" y2="411" stroke="#888" stroke-width="1"/>
<text x="493.0" y="422.6" text-anchor="middle" font-family="Liberation Sans, Arial, sans-serif" font-size="9.5" fill="#707070">3</text>
<line x1="544.3" x2="544.3" y1="409.5" y2="411" stroke="#888" stroke-width="1"/>
<text x="544.3" y="422.6" text-anchor="middle" font-family="Liberation Sans, Arial, sans-serif" font-size="9.5" fill="#707070">5</text>
<line x1="552.3" x2="552.3" y1="409.5" y2="411" stroke="#888" stroke-width="1"/>
<text x="552.3" y="422.6" text-anchor="middle" font-family="Liberation Sans, Arial, sans-serif" font-size="9.5" fill="#707070">6</text>
<line x1="603.7" x2="603.7" y1="409.5" y2="411" stroke="#888" stroke-width="1"/>
<text x="603.7" y="422.6" text-anchor="middle" font-family="Liberation Sans, Arial, sans-serif" font-size="9.5" fill="#707070">7</text>
<line x1="654.3" x2="654.3" y1="409.5" y2="411" stroke="#888" stroke-width="1"/>
<text x="654.3" y="422.6" text-anchor="middle" font-family="Liberation Sans, Arial, sans-serif" font-size="9.5" fill="#707070">8</text>
<line x1="705.7" x2="705.7" y1="409.5" y2="411" stroke="#888" stroke-width="1"/>
<text x="705.7" y="422.6" text-anchor="middle" font-family="Liberation Sans, Arial, sans-serif" font-size="9.5" fill="#707070">9</text>
</svg>
</body></html>
